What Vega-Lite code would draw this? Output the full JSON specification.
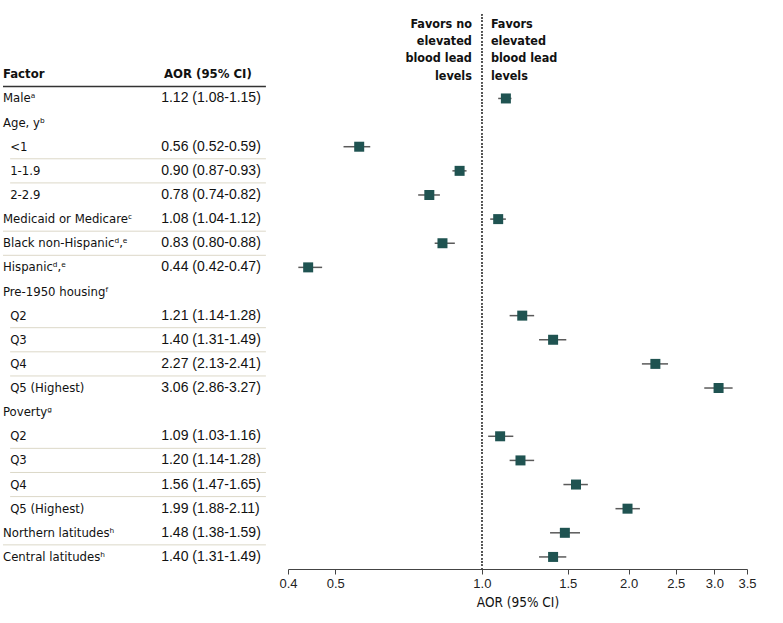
{
  "$schema": "https://vega.github.io/schema/vega-lite/v6.json",
  "padding": {"left": 2, "top": 13, "right": 5, "bottom": 5},
  "background": "white",
  "bounds": "flush",
  "spacing": 0,
  "config": {"view": {"stroke": null}},
  "data": {"values": [
    {"key": "Factor", "label": "Factor", "level": 0, "grp": "header", "ci": "AOR (95% CI)", "favorsNo": "Favors no\nelevated\nblood lead\nlevels", "favorsYes": "Favors\nelevated\nblood lead\nlevels"},
    {"key": "Male", "label": "Maleᵃ", "level": 0, "grp": "male", "aor": 1.12, "lo": 1.08, "hi": 1.15, "ci": "1.12 (1.08-1.15)"},
    {"key": "Age", "label": "Age, yᵇ", "level": 0, "grp": "agehdr"},
    {"key": "Age <1", "label": "<1", "level": 1, "grp": "age", "aor": 0.56, "lo": 0.52, "hi": 0.59, "ci": "0.56 (0.52-0.59)"},
    {"key": "Age 1-1.9", "label": "1-1.9", "level": 1, "grp": "age", "aor": 0.90, "lo": 0.87, "hi": 0.93, "ci": "0.90 (0.87-0.93)"},
    {"key": "Age 2-2.9", "label": "2-2.9", "level": 1, "grp": "age", "aor": 0.78, "lo": 0.74, "hi": 0.82, "ci": "0.78 (0.74-0.82)"},
    {"key": "Medicaid", "label": "Medicaid or Medicareᶜ", "level": 0, "grp": "demo", "aor": 1.08, "lo": 1.04, "hi": 1.12, "ci": "1.08 (1.04-1.12)"},
    {"key": "Black", "label": "Black non-Hispanicᵈ,ᵉ", "level": 0, "grp": "demo", "aor": 0.83, "lo": 0.80, "hi": 0.88, "ci": "0.83 (0.80-0.88)"},
    {"key": "Hispanic", "label": "Hispanicᵈ,ᵉ", "level": 0, "grp": "demo", "aor": 0.44, "lo": 0.42, "hi": 0.47, "ci": "0.44 (0.42-0.47)"},
    {"key": "Housing", "label": "Pre-1950 housingᶠ", "level": 0, "grp": "househdr"},
    {"key": "Housing Q2", "label": "Q2", "level": 1, "grp": "house", "aor": 1.21, "lo": 1.14, "hi": 1.28, "ci": "1.21 (1.14-1.28)"},
    {"key": "Housing Q3", "label": "Q3", "level": 1, "grp": "house", "aor": 1.40, "lo": 1.31, "hi": 1.49, "ci": "1.40 (1.31-1.49)"},
    {"key": "Housing Q4", "label": "Q4", "level": 1, "grp": "house", "aor": 2.27, "lo": 2.13, "hi": 2.41, "ci": "2.27 (2.13-2.41)"},
    {"key": "Housing Q5", "label": "Q5 (Highest)", "level": 1, "grp": "house", "aor": 3.06, "lo": 2.86, "hi": 3.27, "ci": "3.06 (2.86-3.27)"},
    {"key": "Poverty", "label": "Povertyᵍ", "level": 0, "grp": "povhdr"},
    {"key": "Poverty Q2", "label": "Q2", "level": 1, "grp": "pov", "aor": 1.09, "lo": 1.03, "hi": 1.16, "ci": "1.09 (1.03-1.16)"},
    {"key": "Poverty Q3", "label": "Q3", "level": 1, "grp": "pov", "aor": 1.20, "lo": 1.14, "hi": 1.28, "ci": "1.20 (1.14-1.28)"},
    {"key": "Poverty Q4", "label": "Q4", "level": 1, "grp": "pov", "aor": 1.56, "lo": 1.47, "hi": 1.65, "ci": "1.56 (1.47-1.65)"},
    {"key": "Poverty Q5", "label": "Q5 (Highest)", "level": 1, "grp": "pov", "aor": 1.99, "lo": 1.88, "hi": 2.11, "ci": "1.99 (1.88-2.11)"},
    {"key": "Northern", "label": "Northern latitudesʰ", "level": 0, "grp": "lat", "aor": 1.48, "lo": 1.38, "hi": 1.59, "ci": "1.48 (1.38-1.59)"},
    {"key": "Central", "label": "Central latitudesʰ", "level": 0, "grp": "lat", "aor": 1.40, "lo": 1.31, "hi": 1.49, "ci": "1.40 (1.31-1.49)"}
  ]},
  "hconcat": [
    {
      "width": 285,
      "height": 555,
      "encoding": {
        "y": {"field": "key", "type": "nominal", "axis": null,
              "scale": {"type": "band", "paddingInner": 0, "paddingOuter": 1.035, "align": 1,
                        "domain": ["Factor", "Male", "Age", "Age <1", "Age 1-1.9", "Age 2-2.9", "Medicaid", "Black", "Hispanic", "Housing", "Housing Q2", "Housing Q3", "Housing Q4", "Housing Q5", "Poverty", "Poverty Q2", "Poverty Q3", "Poverty Q4", "Poverty Q5", "Northern", "Central"]}}
      },
      "layer": [
        {
          "transform": [
            {"joinaggregate": [{"op": "count", "as": "n"}], "groupby": ["grp"]},
            {"window": [{"op": "row_number", "as": "rn"}], "groupby": ["grp"]},
            {"filter": "datum.grp !== 'header' && datum.rn < datum.n"}
          ],
          "mark": {"type": "rule", "color": "#dcd8c8", "strokeWidth": 1},
          "encoding": {
            "y": {"field": "key", "type": "nominal", "bandPosition": 1},
            "x": {"field": "level", "type": "quantitative", "axis": null, "scale": {"domain": [0, 40], "nice": false, "zero": false}},
            "x2": {"datum": 36.9}
          }
        },
        {
          "transform": [{"filter": "datum.grp === 'header'"}],
          "mark": {"type": "rule", "color": "#333333", "strokeWidth": 1.5},
          "encoding": {
            "y": {"field": "key", "type": "nominal", "bandPosition": 1},
            "x": {"datum": 0, "type": "quantitative", "axis": null, "scale": {"domain": [0, 40], "nice": false, "zero": false}},
            "x2": {"datum": 36.9}
          }
        },
        {
          "transform": [{"filter": "datum.grp !== 'header'"}],
          "mark": {"type": "text", "align": "left", "baseline": "middle", "font": "DejaVu Sans Condensed, Lato, sans-serif", "fontSize": 13, "color": "#111111"},
          "encoding": {
            "x": {"field": "level", "type": "quantitative", "axis": null, "scale": {"domain": [0, 40], "nice": false, "zero": false}},
            "text": {"field": "label"}
          }
        },
        {
          "transform": [{"filter": "datum.grp !== 'header' && isValid(datum.ci)"}],
          "mark": {"type": "text", "align": "left", "baseline": "middle", "font": "Liberation Sans", "fontSize": 14, "color": "#111111"},
          "encoding": {
            "x": {"datum": 22.2, "type": "quantitative", "axis": null, "scale": {"domain": [0, 40], "nice": false, "zero": false}},
            "text": {"field": "ci"}
          }
        },
        {
          "transform": [{"filter": "datum.grp === 'header'"}],
          "mark": {"type": "text", "align": "left", "baseline": "middle", "font": "DejaVu Sans Condensed, Lato, sans-serif", "fontSize": 13, "fontWeight": "bold", "color": "#111111"},
          "encoding": {
            "x": {"field": "level", "type": "quantitative", "axis": null, "scale": {"domain": [0, 40], "nice": false, "zero": false}},
            "text": {"field": "label"}
          }
        },
        {
          "transform": [{"filter": "datum.grp === 'header'"}],
          "mark": {"type": "text", "align": "left", "baseline": "middle", "font": "DejaVu Sans Condensed, Lato, sans-serif", "fontSize": 13, "fontWeight": "bold", "color": "#111111"},
          "encoding": {
            "x": {"datum": 22.6, "type": "quantitative", "axis": null, "scale": {"domain": [0, 40], "nice": false, "zero": false}},
            "text": {"field": "ci"}
          }
        }
      ]
    },
    {
      "width": 459,
      "height": 555,
      "encoding": {
        "y": {"field": "key", "type": "nominal", "axis": null,
              "scale": {"type": "band", "paddingInner": 0, "paddingOuter": 1.035, "align": 1,
                        "domain": ["Factor", "Male", "Age", "Age <1", "Age 1-1.9", "Age 2-2.9", "Medicaid", "Black", "Hispanic", "Housing", "Housing Q2", "Housing Q3", "Housing Q4", "Housing Q5", "Poverty", "Poverty Q2", "Poverty Q3", "Poverty Q4", "Poverty Q5", "Northern", "Central"]}}
      },
      "layer": [
        {
          "mark": {"type": "rule", "color": "#555555", "strokeWidth": 1, "strokeDash": [1.2, 2.2]},
          "encoding": {
            "y": null,
            "x": {"datum": 1, "type": "quantitative",
                  "scale": {"type": "log", "domain": [0.4, 3.5], "nice": false},
                  "axis": {"values": [0.4, 0.5, 1, 1.5, 2, 2.5, 3, 3.5], "format": ".1f", "grid": false,
                           "tickSize": 5, "domainColor": "#444444", "tickColor": "#444444",
                           "labelFont": "Liberation Sans", "labelFontSize": 13, "labelColor": "#222222", "labelPadding": 3, "labelFlush": false,
                           "title": "AOR (95% CI)", "titleFont": "DejaVu Sans Condensed, Lato, sans-serif", "titleFontSize": 13.5, "titleFontWeight": "normal", "titleColor": "#111111", "titlePadding": 5}}
          }
        },
        {
          "transform": [{"filter": "isValid(datum.aor)"}],
          "mark": {"type": "rule", "color": "#5a5a5a", "strokeWidth": 1.5},
          "encoding": {
            "x": {"field": "lo", "type": "quantitative", "scale": {"type": "log", "domain": [0.4, 3.5], "nice": false}},
            "x2": {"field": "hi"}
          }
        },
        {
          "transform": [{"filter": "isValid(datum.aor)"}],
          "mark": {"type": "point", "shape": "square", "filled": true, "size": 100, "color": "#1f5351", "opacity": 1},
          "encoding": {
            "x": {"field": "aor", "type": "quantitative", "scale": {"type": "log", "domain": [0.4, 3.5], "nice": false}}
          }
        },
        {
          "transform": [{"filter": "datum.grp === 'header'"}],
          "mark": {"type": "text", "align": "right", "baseline": "alphabetic", "dx": -10, "dy": -46.5, "lineBreak": "\n", "lineHeight": 17.3, "font": "DejaVu Sans Condensed, Lato, sans-serif", "fontSize": 12.5, "fontWeight": "bold", "color": "#111111"},
          "encoding": {
            "x": {"datum": 1, "type": "quantitative", "scale": {"type": "log", "domain": [0.4, 3.5], "nice": false}},
            "text": {"field": "favorsNo"}
          }
        },
        {
          "transform": [{"filter": "datum.grp === 'header'"}],
          "mark": {"type": "text", "align": "left", "baseline": "alphabetic", "dx": 9, "dy": -46.5, "lineBreak": "\n", "lineHeight": 17.3, "font": "DejaVu Sans Condensed, Lato, sans-serif", "fontSize": 12.5, "fontWeight": "bold", "color": "#111111"},
          "encoding": {
            "x": {"datum": 1, "type": "quantitative", "scale": {"type": "log", "domain": [0.4, 3.5], "nice": false}},
            "text": {"field": "favorsYes"}
          }
        }
      ]
    }
  ]
}
